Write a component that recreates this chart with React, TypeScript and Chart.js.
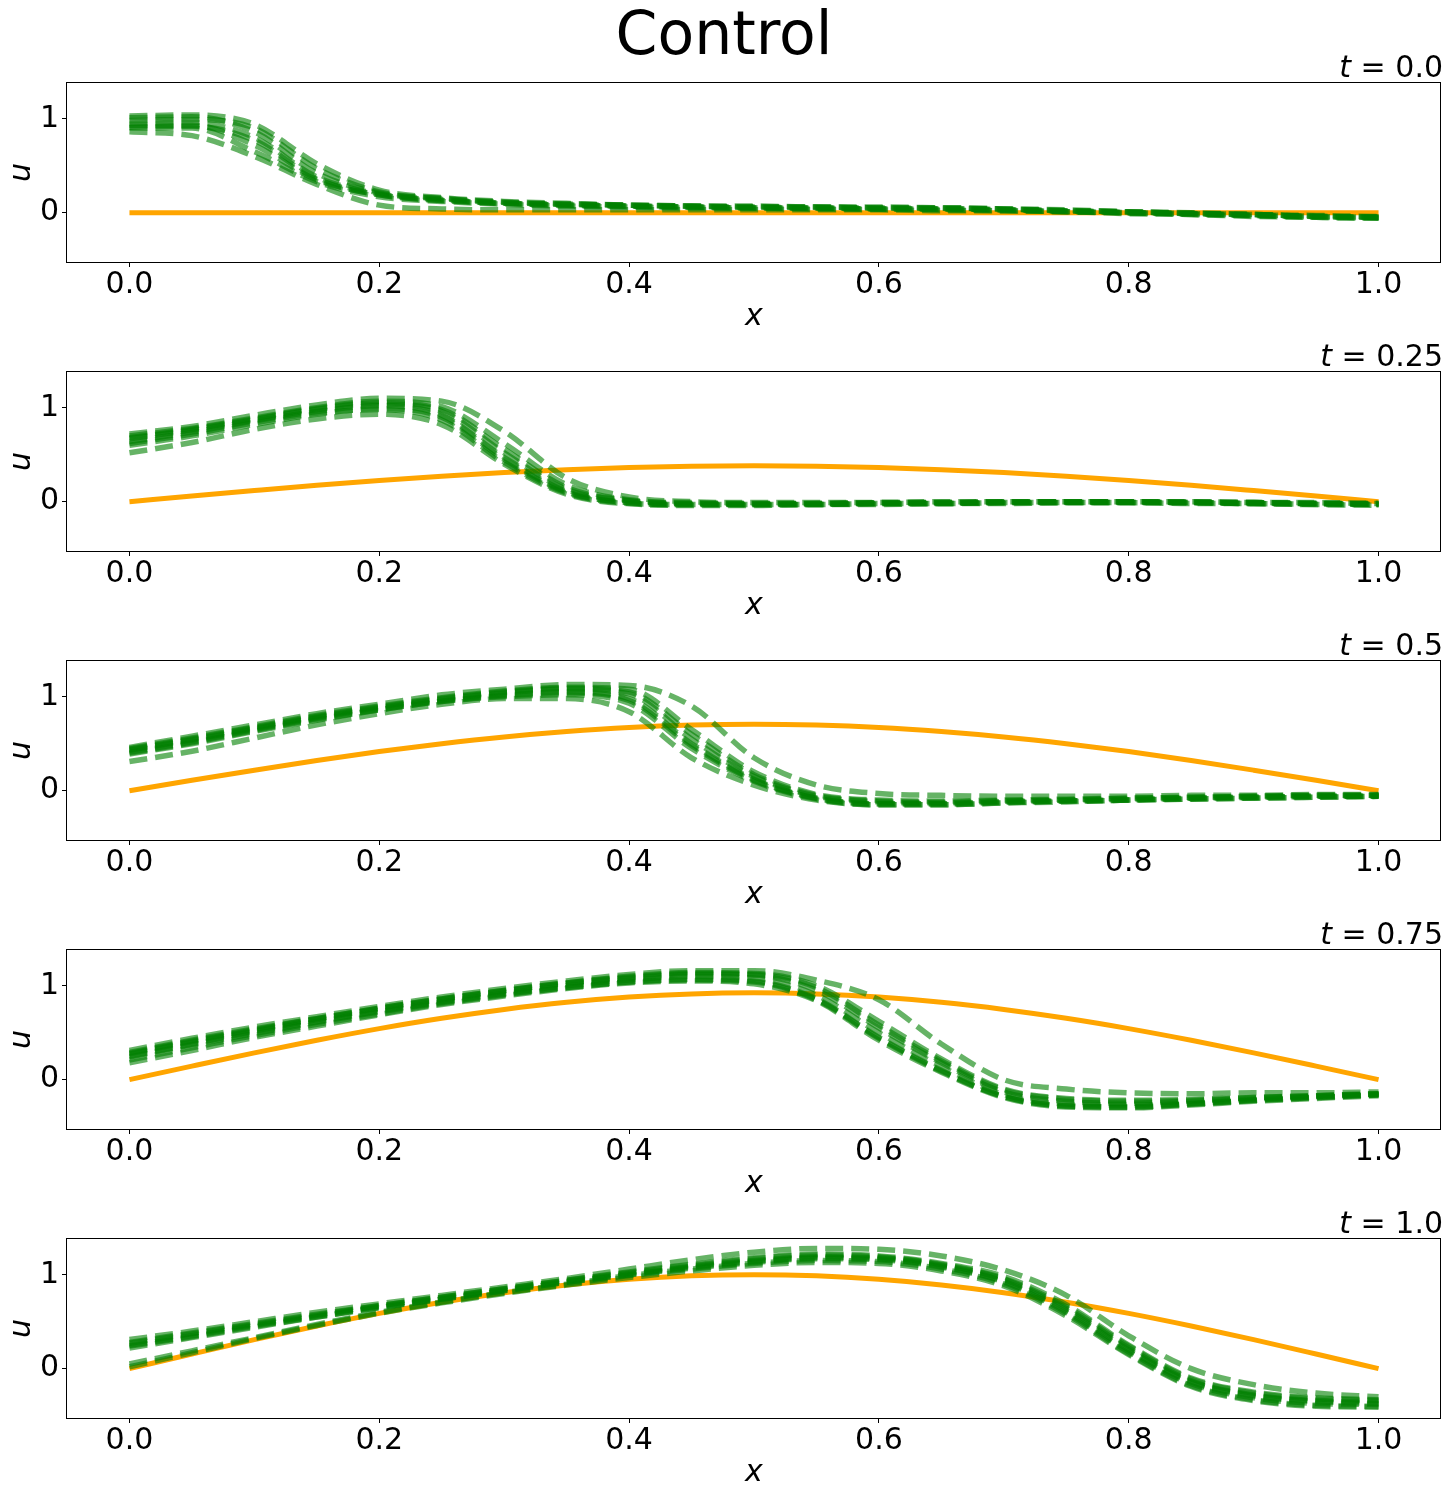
import React, { useEffect, useRef } from "react";
import { Chart, registerables } from "chart.js";

Chart.register(...registerables);

// ---------- data ----------
const X_GRID = [0, 0.05, 0.1, 0.15, 0.2, 0.25, 0.3, 0.35, 0.4, 0.45, 0.5, 0.55, 0.6, 0.65, 0.7, 0.75, 0.8, 0.85, 0.9, 0.95, 1.0];
const X_TICKS = [0, 0.2, 0.4, 0.6, 0.8, 1.0];
const Y_TICKS = [0, 1];
const T_LABELS = ["0.0", "0.25", "0.5", "0.75", "1.0"];

// orange control curves
const CONTROL_T000 = [0, 0, 0, 0, 0, 0, 0, 0, 0, 0, 0, 0, 0, 0, 0, 0, 0, 0, 0, 0, 0];
const CONTROL_T025 = [0, 0.06, 0.118, 0.174, 0.225, 0.271, 0.31, 0.341, 0.364, 0.378, 0.383, 0.378, 0.364, 0.341, 0.31, 0.271, 0.225, 0.174, 0.118, 0.06, 0];
const CONTROL_T050 = [0, 0.111, 0.218, 0.321, 0.416, 0.5, 0.572, 0.63, 0.673, 0.698, 0.707, 0.698, 0.673, 0.63, 0.572, 0.5, 0.416, 0.321, 0.218, 0.111, 0];
const CONTROL_T075 = [0, 0.144, 0.285, 0.419, 0.543, 0.653, 0.747, 0.823, 0.879, 0.913, 0.924, 0.913, 0.879, 0.823, 0.747, 0.653, 0.543, 0.419, 0.285, 0.144, 0];
const CONTROL_T100 = [0, 0.156, 0.309, 0.454, 0.588, 0.707, 0.809, 0.891, 0.951, 0.988, 1.0, 0.988, 0.951, 0.891, 0.809, 0.707, 0.588, 0.454, 0.309, 0.156, 0];

// green dashed samples
const SAMPLES_T000 = [
  [1.03, 1.04, 0.94, 0.52, 0.24, 0.16, 0.12, 0.10, 0.08, 0.07, 0.07, 0.06, 0.06, 0.05, 0.04, 0.03, 0.01, 0.00, -0.02, -0.03, -0.04],
  [1.01, 1.02, 0.86, 0.42, 0.21, 0.15, 0.11, 0.09, 0.08, 0.07, 0.06, 0.06, 0.05, 0.05, 0.04, 0.02, 0.01, -0.01, -0.02, -0.04, -0.05],
  [0.98, 0.99, 0.90, 0.47, 0.22, 0.15, 0.11, 0.09, 0.08, 0.07, 0.06, 0.06, 0.05, 0.05, 0.04, 0.02, 0.01, -0.01, -0.02, -0.04, -0.05],
  [0.95, 0.96, 0.80, 0.38, 0.20, 0.14, 0.10, 0.09, 0.07, 0.06, 0.06, 0.05, 0.05, 0.04, 0.03, 0.02, 0.00, -0.01, -0.03, -0.04, -0.05],
  [0.93, 0.93, 0.72, 0.35, 0.19, 0.13, 0.10, 0.08, 0.07, 0.06, 0.05, 0.05, 0.04, 0.04, 0.03, 0.01, 0.00, -0.02, -0.03, -0.05, -0.06],
  [0.91, 0.92, 0.77, 0.36, 0.19, 0.13, 0.10, 0.08, 0.07, 0.06, 0.05, 0.05, 0.04, 0.04, 0.03, 0.02, 0.00, -0.01, -0.03, -0.04, -0.05],
  [0.90, 0.90, 0.65, 0.33, 0.17, 0.12, 0.09, 0.07, 0.06, 0.05, 0.05, 0.04, 0.04, 0.03, 0.02, 0.01, -0.01, -0.02, -0.04, -0.05, -0.06],
  [0.86, 0.82, 0.60, 0.30, 0.08, 0.04, 0.03, 0.03, 0.03, 0.03, 0.03, 0.03, 0.03, 0.02, 0.02, 0.01, 0.00, -0.01, -0.02, -0.04, -0.05],
];
const SAMPLES_T025 = [
  [0.72, 0.80, 0.92, 1.03, 1.10, 1.07, 0.75, 0.25, 0.05, 0.00, -0.01, -0.01, -0.01, 0.00, 0.00, 0.00, 0.00, 0.00, -0.01, -0.01, -0.02],
  [0.70, 0.78, 0.89, 1.00, 1.07, 1.01, 0.62, 0.18, 0.02, -0.01, -0.02, -0.02, -0.01, -0.01, 0.00, 0.00, 0.00, 0.00, -0.01, -0.02, -0.02],
  [0.68, 0.77, 0.88, 0.99, 1.05, 0.98, 0.56, 0.15, 0.01, -0.02, -0.02, -0.02, -0.01, -0.01, 0.00, 0.00, 0.00, -0.01, -0.01, -0.02, -0.02],
  [0.67, 0.76, 0.87, 0.98, 1.04, 0.96, 0.52, 0.13, 0.01, -0.02, -0.03, -0.02, -0.02, -0.01, -0.01, 0.00, 0.00, -0.01, -0.01, -0.02, -0.03],
  [0.64, 0.74, 0.86, 0.96, 1.02, 0.92, 0.47, 0.11, -0.01, -0.03, -0.03, -0.03, -0.02, -0.02, -0.01, -0.01, -0.01, -0.01, -0.02, -0.02, -0.03],
  [0.62, 0.72, 0.84, 0.94, 0.98, 0.87, 0.42, 0.09, -0.02, -0.04, -0.04, -0.03, -0.03, -0.02, -0.02, -0.01, -0.01, -0.01, -0.02, -0.03, -0.03],
  [0.60, 0.70, 0.82, 0.93, 0.99, 0.90, 0.45, 0.10, -0.01, -0.03, -0.03, -0.03, -0.02, -0.02, -0.01, -0.01, -0.01, -0.01, -0.02, -0.02, -0.03],
  [0.52, 0.63, 0.77, 0.88, 0.93, 0.82, 0.40, 0.08, -0.02, -0.03, -0.03, -0.03, -0.02, -0.02, -0.01, -0.01, -0.01, -0.02, -0.02, -0.03, -0.04],
];
const SAMPLES_T050 = [
  [0.46, 0.58, 0.70, 0.82, 0.92, 1.02, 1.08, 1.13, 1.12, 0.90, 0.35, 0.06, -0.03, -0.05, -0.06, -0.06, -0.06, -0.05, -0.05, -0.04, -0.04],
  [0.45, 0.56, 0.68, 0.80, 0.90, 0.99, 1.06, 1.10, 1.08, 0.65, 0.20, -0.04, -0.10, -0.11, -0.10, -0.09, -0.08, -0.07, -0.06, -0.05, -0.05],
  [0.44, 0.55, 0.67, 0.79, 0.89, 0.98, 1.05, 1.09, 1.05, 0.60, 0.17, -0.05, -0.11, -0.12, -0.11, -0.10, -0.08, -0.07, -0.06, -0.05, -0.05],
  [0.43, 0.54, 0.66, 0.78, 0.88, 0.97, 1.04, 1.08, 1.03, 0.55, 0.15, -0.06, -0.12, -0.13, -0.11, -0.10, -0.09, -0.08, -0.07, -0.06, -0.05],
  [0.41, 0.52, 0.65, 0.77, 0.87, 0.96, 1.02, 1.05, 0.98, 0.50, 0.12, -0.08, -0.14, -0.14, -0.12, -0.11, -0.10, -0.08, -0.07, -0.06, -0.06],
  [0.40, 0.51, 0.64, 0.76, 0.86, 0.95, 1.01, 1.04, 0.96, 0.48, 0.11, -0.08, -0.14, -0.14, -0.12, -0.11, -0.10, -0.08, -0.07, -0.06, -0.06],
  [0.39, 0.50, 0.63, 0.75, 0.86, 0.95, 1.00, 1.02, 0.93, 0.45, 0.10, -0.09, -0.15, -0.15, -0.13, -0.11, -0.10, -0.09, -0.08, -0.07, -0.06],
  [0.31, 0.42, 0.56, 0.70, 0.82, 0.92, 0.98, 0.98, 0.84, 0.35, 0.06, -0.10, -0.15, -0.15, -0.13, -0.12, -0.10, -0.09, -0.08, -0.07, -0.06],
];
const SAMPLES_T075 = [
  [0.31, 0.44, 0.56, 0.67, 0.78, 0.88, 0.97, 1.05, 1.12, 1.16, 1.16, 1.06, 0.85, 0.38, 0.00, -0.10, -0.14, -0.15, -0.14, -0.14, -0.13],
  [0.29, 0.42, 0.54, 0.65, 0.76, 0.86, 0.95, 1.03, 1.10, 1.14, 1.13, 1.00, 0.62, 0.22, -0.10, -0.20, -0.22, -0.21, -0.19, -0.17, -0.15],
  [0.28, 0.41, 0.53, 0.65, 0.76, 0.86, 0.95, 1.03, 1.09, 1.13, 1.12, 0.98, 0.58, 0.20, -0.11, -0.21, -0.23, -0.22, -0.19, -0.17, -0.15],
  [0.27, 0.40, 0.52, 0.64, 0.75, 0.85, 0.94, 1.02, 1.08, 1.12, 1.11, 0.95, 0.55, 0.18, -0.13, -0.23, -0.25, -0.23, -0.20, -0.18, -0.15],
  [0.25, 0.38, 0.51, 0.62, 0.73, 0.83, 0.92, 1.00, 1.06, 1.10, 1.08, 0.90, 0.50, 0.14, -0.16, -0.26, -0.27, -0.25, -0.21, -0.18, -0.16],
  [0.24, 0.37, 0.49, 0.61, 0.72, 0.82, 0.91, 0.98, 1.04, 1.07, 1.05, 0.86, 0.45, 0.10, -0.18, -0.28, -0.29, -0.26, -0.22, -0.19, -0.16],
  [0.21, 0.34, 0.47, 0.59, 0.70, 0.81, 0.90, 0.98, 1.04, 1.06, 1.04, 0.85, 0.44, 0.09, -0.18, -0.28, -0.29, -0.26, -0.22, -0.19, -0.16],
  [0.18, 0.31, 0.45, 0.57, 0.69, 0.80, 0.89, 0.97, 1.03, 1.05, 1.02, 0.84, 0.42, 0.08, -0.19, -0.29, -0.30, -0.27, -0.23, -0.20, -0.17],
];
const SAMPLES_T100 = [
  [0.31, 0.40, 0.50, 0.60, 0.69, 0.78, 0.87, 0.96, 1.06, 1.16, 1.24, 1.28, 1.27, 1.20, 1.05, 0.78, 0.35, 0.00, -0.17, -0.26, -0.30],
  [0.28, 0.38, 0.48, 0.58, 0.67, 0.76, 0.85, 0.94, 1.03, 1.11, 1.18, 1.22, 1.20, 1.12, 0.98, 0.68, 0.25, -0.10, -0.25, -0.31, -0.33],
  [0.27, 0.37, 0.47, 0.57, 0.67, 0.76, 0.85, 0.94, 1.02, 1.10, 1.17, 1.21, 1.19, 1.11, 0.96, 0.66, 0.24, -0.11, -0.26, -0.32, -0.34],
  [0.25, 0.35, 0.46, 0.56, 0.66, 0.75, 0.84, 0.93, 1.01, 1.09, 1.15, 1.19, 1.18, 1.10, 0.95, 0.64, 0.22, -0.13, -0.28, -0.34, -0.35],
  [0.24, 0.34, 0.45, 0.55, 0.65, 0.74, 0.83, 0.92, 1.00, 1.08, 1.14, 1.18, 1.17, 1.09, 0.93, 0.62, 0.20, -0.14, -0.29, -0.35, -0.37],
  [0.22, 0.33, 0.44, 0.55, 0.65, 0.74, 0.83, 0.92, 1.00, 1.07, 1.13, 1.17, 1.16, 1.08, 0.92, 0.60, 0.18, -0.16, -0.31, -0.37, -0.38],
  [0.05, 0.19, 0.33, 0.47, 0.60, 0.71, 0.81, 0.90, 0.99, 1.06, 1.12, 1.15, 1.14, 1.06, 0.90, 0.58, 0.16, -0.18, -0.33, -0.39, -0.40],
  [0.02, 0.17, 0.32, 0.46, 0.59, 0.70, 0.80, 0.89, 0.97, 1.04, 1.10, 1.13, 1.12, 1.04, 0.88, 0.56, 0.15, -0.19, -0.34, -0.40, -0.41],
];

const PANELS = [
  { t: T_LABELS[0], samples: SAMPLES_T000, control: CONTROL_T000 },
  { t: T_LABELS[1], samples: SAMPLES_T025, control: CONTROL_T025 },
  { t: T_LABELS[2], samples: SAMPLES_T050, control: CONTROL_T050 },
  { t: T_LABELS[3], samples: SAMPLES_T075, control: CONTROL_T075 },
  { t: T_LABELS[4], samples: SAMPLES_T100, control: CONTROL_T100 },
];

// ---------- styling ----------
const FONT = '"DejaVu Sans", "Liberation Sans", sans-serif';
const GREEN = "rgba(0,128,0,0.6)";
const ORANGE = "#FFA500";
const CANVAS_W = 1448;
const CANVAS_H = 289;
const PANEL_STEP = 289;
const FIRST_TOP = 42;
const AREA_TOP = 41;
const AREA_H = 179;

const decorPlugin = {
  id: "decor",
  afterDraw(chart: any, _args: any, opts: any) {
    const { ctx, chartArea: a } = chart;
    ctx.save();
    // frame
    ctx.strokeStyle = "#000";
    ctx.lineWidth = 1;
    ctx.strokeRect(a.left - 0.5, a.top - 0.5, a.right - a.left, a.bottom - a.top + 1);
    ctx.fillStyle = "#000";
    const fi = `italic 30px ${FONT}`;
    const fn = `30px ${FONT}`;
    // title
    ctx.textBaseline = "alphabetic";
    ctx.textAlign = "left";
    ctx.font = fi;
    const wt = ctx.measureText("t").width;
    ctx.font = fn;
    const rest = " = " + opts.tLabel;
    const wr = ctx.measureText(rest).width;
    const x0 = a.right + 2 - wt - wr;
    ctx.font = fi;
    ctx.fillText("t", x0, a.top - 6);
    ctx.font = fn;
    ctx.fillText(rest, x0 + wt, a.top - 6);
    // x label
    ctx.font = fi;
    ctx.textAlign = "center";
    ctx.fillText("x", (a.left + a.right) / 2, a.bottom + 63);
    // y label
    ctx.translate(30, (a.top + a.bottom) / 2);
    ctx.rotate(-Math.PI / 2);
    ctx.fillText("u", 0, 0);
    ctx.restore();
  },
};

function Panel({ index }: { index: number }) {
  const ref = useRef<HTMLCanvasElement>(null);
  const panel = PANELS[index];
  useEffect(() => {
    const datasets: any[] = panel.samples.map((s) => ({
      data: X_GRID.map((x, i) => ({ x, y: s[i] })),
      borderColor: GREEN,
      borderWidth: 5.5,
      borderDash: [18, 8],
      borderCapStyle: "butt",
      pointRadius: 0,
      fill: false,
      cubicInterpolationMode: "monotone",
      order: 0,
    }));
    datasets.push({
      data: X_GRID.map((x, i) => ({ x, y: panel.control[i] })),
      borderColor: ORANGE,
      borderWidth: 5,
      pointRadius: 0,
      fill: false,
      cubicInterpolationMode: "monotone",
      order: 1,
    });
    const tickFont = { family: FONT, size: 30, lineHeight: 1 };
    const chart = new Chart(ref.current!, {
      type: "line",
      data: { datasets },
      plugins: [decorPlugin as any],
      options: {
        responsive: false,
        animation: false,
        devicePixelRatio: 1,
        layout: { padding: { left: 0, right: 7, top: AREA_TOP, bottom: 0 } },
        plugins: {
          legend: { display: false },
          tooltip: { enabled: false },
          decor: { tLabel: panel.t },
        } as any,
        scales: {
          x: {
            type: "linear",
            min: -0.05,
            max: 1.05,
            afterBuildTicks: (s: any) => {
              s.ticks = X_TICKS.map((v) => ({ value: v }));
            },
            afterFit: (s: any) => {
              s.height = CANVAS_H - AREA_TOP - AREA_H;
            },
            grid: { drawOnChartArea: false, drawTicks: true, tickLength: 5, color: "#000", lineWidth: 1 },
            border: { display: false },
            ticks: {
              font: tickFont,
              color: "#000",
              padding: 3,
              maxRotation: 0,
              autoSkip: false,
              callback: (v: any) => Number(v).toFixed(1),
            },
          },
          y: {
            type: "linear",
            min: -0.525,
            max: 1.38,
            afterBuildTicks: (s: any) => {
              s.ticks = Y_TICKS.map((v) => ({ value: v }));
            },
            afterFit: (s: any) => {
              s.width = 67;
            },
            grid: { drawOnChartArea: false, drawTicks: true, tickLength: 5, color: "#000", lineWidth: 1 },
            border: { display: false },
            ticks: {
              font: tickFont,
              color: "#000",
              padding: 3,
              autoSkip: false,
              callback: (v: any) => String(v),
            },
          },
        },
      } as any,
    });
    return () => chart.destroy();
  }, []);
  return (
    <canvas
      ref={ref}
      width={CANVAS_W}
      height={CANVAS_H}
      style={{
        position: "absolute",
        left: 0,
        top: FIRST_TOP + PANEL_STEP * index,
        width: CANVAS_W,
        height: CANVAS_H,
      }}
    />
  );
}

export default function App() {
  return (
    <div
      style={{
        position: "absolute",
        left: 0,
        top: 0,
        width: 1448,
        height: 1494,
        background: "#fff",
        overflow: "hidden",
      }}
    >
      {PANELS.map((_, i) => (
        <Panel key={i} index={i} />
      ))}
      <div
        style={{
          position: "absolute",
          left: 0,
          top: 3,
          width: 1448,
          textAlign: "center",
          fontFamily: FONT,
          fontSize: 60,
          lineHeight: "60px",
          color: "#000",
          zIndex: 2,
        }}
      >
        Control
      </div>
    </div>
  );
}
